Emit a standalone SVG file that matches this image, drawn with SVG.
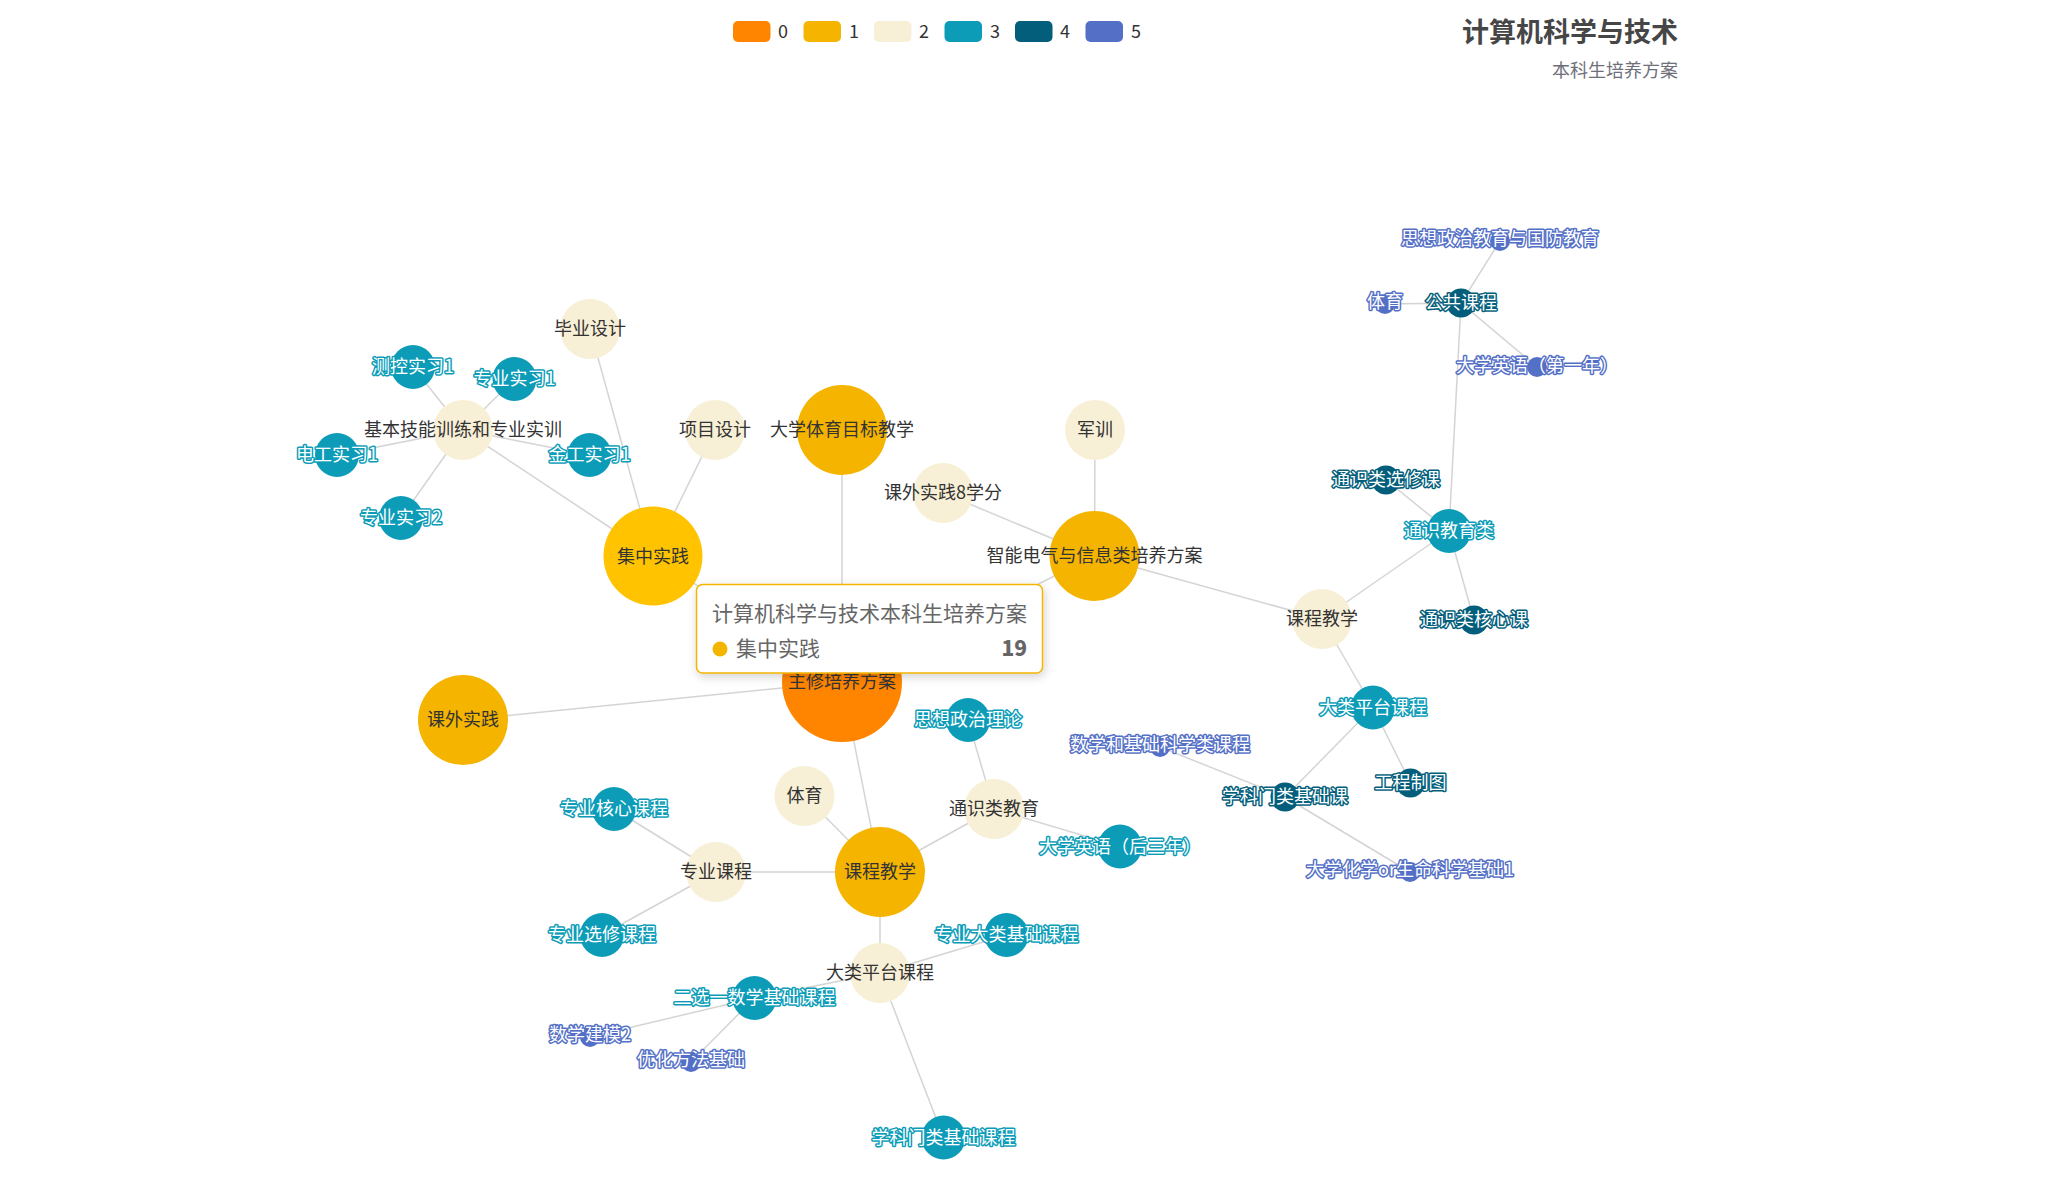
<svg xmlns="http://www.w3.org/2000/svg" width="2065" height="1180" viewBox="0 0 2065 1180">
<style>
text{font-family:"Noto Sans CJK SC","Microsoft YaHei",sans-serif;}
.e{stroke:#aaa;stroke-opacity:0.5;stroke-width:1.5;fill:none;}
.c0{fill:#ff8500;}.c1{fill:#f5b400;}.c2{fill:#f8f0d6;}.c3{fill:#0c9cb8;}.c4{fill:#035e7b;}.c5{fill:#5470c6;}
.lb{font-size:18px;text-anchor:middle;}
.ld{fill:#333;}
.lw{fill:#fff;stroke-width:3;stroke-linejoin:round;paint-order:stroke;}
.s3{stroke:#0c9cb8;}.s4{stroke:#035e7b;}.s5{stroke:#5470c6;}
.lg{font-size:18px;fill:#333;}
</style>
<defs>
<filter id="sh" x="-20%" y="-30%" width="140%" height="160%">
<feDropShadow dx="1.5" dy="3" stdDeviation="5" flood-color="#000" flood-opacity="0.18"/>
</filter>
</defs>
<rect width="2065" height="1180" fill="#fff"/>
<g id="title">
<text x="1678" y="42" font-size="27" font-weight="bold" fill="#464646" text-anchor="end">计算机科学与技术</text>
<text x="1678" y="77" font-size="18" fill="#6e7079" text-anchor="end">本科生培养方案</text>
</g>
<g id="legend">
<rect x="733" y="21" width="37.5" height="21" rx="5" class="c0"/><text x="778" y="37.5" class="lg">0</text>
<rect x="803.5" y="21" width="37.5" height="21" rx="5" class="c1"/><text x="849" y="37.5" class="lg">1</text>
<rect x="874" y="21" width="37.5" height="21" rx="5" class="c2"/><text x="919" y="37.5" class="lg">2</text>
<rect x="944.5" y="21" width="37.5" height="21" rx="5" class="c3"/><text x="990" y="37.5" class="lg">3</text>
<rect x="1015" y="21" width="37.5" height="21" rx="5" class="c4"/><text x="1060" y="37.5" class="lg">4</text>
<rect x="1085.5" y="21" width="37.5" height="21" rx="5" class="c5"/><text x="1131" y="37.5" class="lg">5</text>
</g>
<g id="connectors">
<line class="e" x1="842" y1="682" x2="653" y2="556"/>
<line class="e" x1="842" y1="682" x2="842" y2="430"/>
<line class="e" x1="842" y1="682" x2="1094.5" y2="556"/>
<line class="e" x1="842" y1="682" x2="463" y2="720"/>
<line class="e" x1="842" y1="682" x2="880" y2="872"/>
<line class="e" x1="653" y1="556" x2="590" y2="329"/>
<line class="e" x1="653" y1="556" x2="715" y2="430"/>
<line class="e" x1="653" y1="556" x2="463" y2="430"/>
<line class="e" x1="463" y1="430" x2="413" y2="367"/>
<line class="e" x1="463" y1="430" x2="514.5" y2="379"/>
<line class="e" x1="463" y1="430" x2="337" y2="455"/>
<line class="e" x1="463" y1="430" x2="589.5" y2="455"/>
<line class="e" x1="463" y1="430" x2="401" y2="518"/>
<line class="e" x1="1094.5" y1="556" x2="1095" y2="430"/>
<line class="e" x1="1094.5" y1="556" x2="943" y2="493"/>
<line class="e" x1="1094.5" y1="556" x2="1322" y2="619"/>
<line class="e" x1="1322" y1="619" x2="1449" y2="531"/>
<line class="e" x1="1322" y1="619" x2="1373" y2="707.5"/>
<line class="e" x1="1449" y1="531" x2="1386" y2="480"/>
<line class="e" x1="1449" y1="531" x2="1474" y2="620"/>
<line class="e" x1="1449" y1="531" x2="1461" y2="303"/>
<line class="e" x1="1461" y1="303" x2="1500" y2="241"/>
<line class="e" x1="1461" y1="303" x2="1385" y2="304"/>
<line class="e" x1="1461" y1="303" x2="1537" y2="367"/>
<line class="e" x1="1373" y1="707.5" x2="1285" y2="797"/>
<line class="e" x1="1373" y1="707.5" x2="1410.5" y2="783"/>
<line class="e" x1="1285" y1="797" x2="1160" y2="747"/>
<line class="e" x1="1285" y1="797" x2="1410" y2="872"/>
<line class="e" x1="880" y1="872" x2="804.5" y2="796"/>
<line class="e" x1="880" y1="872" x2="994" y2="809"/>
<line class="e" x1="880" y1="872" x2="716" y2="872"/>
<line class="e" x1="880" y1="872" x2="880" y2="973"/>
<line class="e" x1="994" y1="809" x2="968" y2="720"/>
<line class="e" x1="994" y1="809" x2="1120" y2="846.5"/>
<line class="e" x1="716" y1="872" x2="614" y2="809"/>
<line class="e" x1="716" y1="872" x2="602" y2="935"/>
<line class="e" x1="880" y1="973" x2="1006.5" y2="935"/>
<line class="e" x1="880" y1="973" x2="754.5" y2="998"/>
<line class="e" x1="880" y1="973" x2="943.5" y2="1137.5"/>
<line class="e" x1="754.5" y1="998" x2="590" y2="1037"/>
<line class="e" x1="754.5" y1="998" x2="691" y2="1062"/>
</g>
<g id="n_root"><circle cx="842" cy="682" r="60" class="c0"/><text x="842" y="688" class="lb ld">主修培养方案</text></g>
<g id="n_jzsj"><circle cx="653" cy="556" r="49.5" fill="#ffc300"/><text x="653" y="562.5" class="lb ld" font-size="19.8">集中实践</text></g>
<g id="n_dxty"><circle cx="842" cy="430" r="45" class="c1"/><text x="842" y="436" class="lb ld">大学体育目标教学</text></g>
<g id="n_zndq"><circle cx="1094.5" cy="556" r="45" class="c1"/><text x="1094.5" y="562" class="lb ld">智能电气与信息类培养方案</text></g>
<g id="n_kwsj"><circle cx="463" cy="720" r="45" class="c1"/><text x="463" y="726" class="lb ld">课外实践</text></g>
<g id="n_kcjx"><circle cx="880" cy="872" r="45" class="c1"/><text x="880" y="878" class="lb ld">课程教学</text></g>
<g id="n_bysj"><circle cx="590" cy="329" r="30" class="c2"/><text x="590" y="335" class="lb ld">毕业设计</text></g>
<g id="n_xmsj"><circle cx="715" cy="430" r="30" class="c2"/><text x="715" y="436" class="lb ld">项目设计</text></g>
<g id="n_jbjn"><circle cx="463" cy="430" r="30" class="c2"/><text x="463" y="436" class="lb ld">基本技能训练和专业实训</text></g>
<g id="n_ckss1"><circle cx="413" cy="367" r="22" class="c3"/><text x="413" y="373" class="lb lw s3">测控实习1</text></g>
<g id="n_zyss1"><circle cx="514.5" cy="379" r="22" class="c3"/><text x="514.5" y="385" class="lb lw s3">专业实习1</text></g>
<g id="n_dgss1"><circle cx="337" cy="455" r="22" class="c3"/><text x="337" y="461" class="lb lw s3">电工实习1</text></g>
<g id="n_jgss1"><circle cx="589.5" cy="455" r="22" class="c3"/><text x="589.5" y="461" class="lb lw s3">金工实习1</text></g>
<g id="n_zyss2"><circle cx="401" cy="518" r="22" class="c3"/><text x="401" y="524" class="lb lw s3">专业实习2</text></g>
<g id="n_jx"><circle cx="1095" cy="430" r="30" class="c2"/><text x="1095" y="436" class="lb ld">军训</text></g>
<g id="n_kwsj8"><circle cx="943" cy="493" r="30" class="c2"/><text x="943" y="499" class="lb ld">课外实践8学分</text></g>
<g id="n_kcjx2"><circle cx="1322" cy="619" r="30" class="c2"/><text x="1322" y="625" class="lb ld">课程教学</text></g>
<g id="n_tsjy"><circle cx="1449" cy="531" r="22" class="c3"/><text x="1449" y="537" class="lb lw s3">通识教育类</text></g>
<g id="n_tsxx"><circle cx="1386" cy="480" r="14.5" class="c4"/><text x="1386" y="486" class="lb lw s4">通识类选修课</text></g>
<g id="n_tshx"><circle cx="1474" cy="620" r="14.5" class="c4"/><text x="1474" y="626" class="lb lw s4">通识类核心课</text></g>
<g id="n_ggkc"><circle cx="1461" cy="303" r="14.5" class="c4"/><text x="1461" y="309" class="lb lw s4">公共课程</text></g>
<g id="n_szgf"><circle cx="1500" cy="241" r="10" class="c5"/><text x="1500" y="245" class="lb lw s5">思想政治教育与国防教育</text></g>
<g id="n_ty5"><circle cx="1385" cy="304" r="10" class="c5"/><text x="1385" y="308" class="lb lw s5">体育</text></g>
<g id="n_dxyy1"><circle cx="1537" cy="367" r="10" class="c5"/><text x="1537" y="372" class="lb lw s5">大学英语（第一年）</text></g>
<g id="n_dlpt3"><circle cx="1373" cy="707.5" r="22" class="c3"/><text x="1373" y="713.5" class="lb lw s3">大类平台课程</text></g>
<g id="n_xkml4"><circle cx="1285" cy="797" r="14.5" class="c4"/><text x="1285" y="803" class="lb lw s4">学科门类基础课</text></g>
<g id="n_gczt"><circle cx="1410.5" cy="783" r="14.5" class="c4"/><text x="1410.5" y="789" class="lb lw s4">工程制图</text></g>
<g id="n_sxjc"><circle cx="1160" cy="747" r="10" class="c5"/><text x="1160" y="751" class="lb lw s5">数学和基础科学类课程</text></g>
<g id="n_dxhx"><circle cx="1410" cy="872" r="10" class="c5"/><text x="1410" y="876" class="lb lw s5">大学化学or生命科学基础1</text></g>
<g id="n_ty2"><circle cx="804.5" cy="796" r="30" class="c2"/><text x="804.5" y="802" class="lb ld">体育</text></g>
<g id="n_tslj"><circle cx="994" cy="809" r="30" class="c2"/><text x="994" y="815" class="lb ld">通识类教育</text></g>
<g id="n_zykc"><circle cx="716" cy="872" r="30" class="c2"/><text x="716" y="878" class="lb ld">专业课程</text></g>
<g id="n_dlpt2"><circle cx="880" cy="973" r="30" class="c2"/><text x="880" y="979" class="lb ld">大类平台课程</text></g>
<g id="n_szll"><circle cx="968" cy="720" r="22" class="c3"/><text x="968" y="726" class="lb lw s3">思想政治理论</text></g>
<g id="n_dxyy3"><circle cx="1120" cy="846.5" r="22" class="c3"/><text x="1120" y="852.5" class="lb lw s3">大学英语（后三年）</text></g>
<g id="n_zyhx"><circle cx="614" cy="809" r="22" class="c3"/><text x="614" y="815" class="lb lw s3">专业核心课程</text></g>
<g id="n_zyxx"><circle cx="602" cy="935" r="22" class="c3"/><text x="602" y="941" class="lb lw s3">专业选修课程</text></g>
<g id="n_zydl"><circle cx="1006.5" cy="935" r="22" class="c3"/><text x="1006.5" y="941" class="lb lw s3">专业大类基础课程</text></g>
<g id="n_exy"><circle cx="754.5" cy="998" r="22" class="c3"/><text x="754.5" y="1004" class="lb lw s3">二选一数学基础课程</text></g>
<g id="n_xkml3"><circle cx="943.5" cy="1137.5" r="22" class="c3"/><text x="943.5" y="1143.5" class="lb lw s3">学科门类基础课程</text></g>
<g id="n_sxjm"><circle cx="590" cy="1037" r="10" class="c5"/><text x="590" y="1041" class="lb lw s5">数学建模2</text></g>
<g id="n_yhff"><circle cx="691" cy="1062" r="10" class="c5"/><text x="691" y="1066" class="lb lw s5">优化方法基础</text></g>
<g id="tooltip">
<rect x="696.5" y="584.5" width="346" height="88.5" rx="6" fill="#fff" stroke="#f5b400" stroke-width="1.5" filter="url(#sh)"/>
<text x="712" y="621" font-size="21" fill="#666">计算机科学与技术本科生培养方案</text>
<circle cx="720" cy="649" r="7.5" fill="#f5b400"/>
<text x="736" y="656" font-size="21" fill="#666">集中实践</text>
<text x="1027" y="656" font-size="21" font-weight="900" fill="#666" text-anchor="end">19</text>
</g>
</svg>
